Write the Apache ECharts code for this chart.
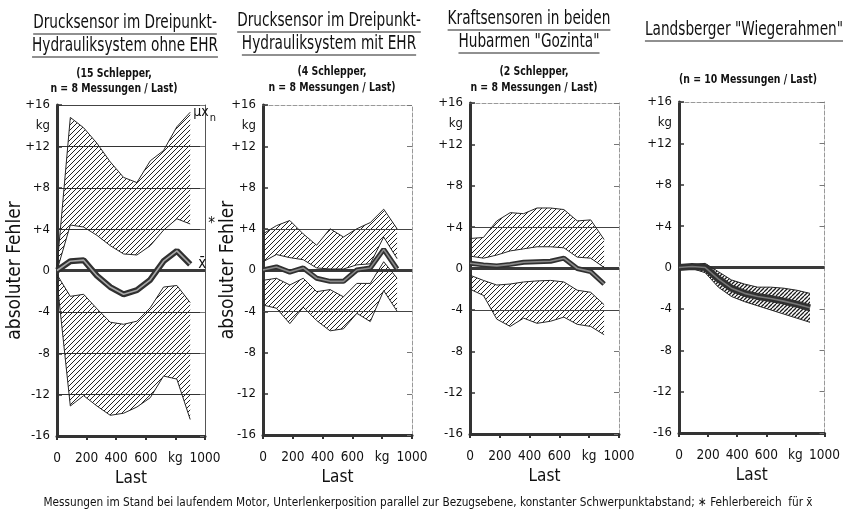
<!DOCTYPE html>
<html><head><meta charset="utf-8">
<script src="https://cdn.jsdelivr.net/npm/echarts@6/dist/echarts.min.js"></script>
<style>html,body{margin:0;padding:0;background:#fff}#c{width:843px;height:513px}</style>
</head><body><div id="c"></div>
<script>
// ---------- data (loads in kg, errors in kg) ----------
const loads = [0, 90, 180, 270, 360, 450, 540, 630, 720, 810, 900];
const xTicks = [0, 200, 400, 600, 800, 1000];
const xTickLabels = ['0', '200', '400', '600', 'kg', '1000'];
const yTicks = [-16, -12, -8, -4, 0, 4, 8, 12, 16];
const yTickLabels = ['-16', '-12', '-8', '-4', '0', '+4', '+8', '+12', '+16'];

// Panel 1: Drucksensor ohne EHR
const p1UpperTop = [0.3, 14.8, 13.8, 12.3, 10.5, 9.0, 8.5, 10.6, 11.6, 13.9, 15.3];
const p1UpperBottom = [0.0, 4.4, 4.2, 3.4, 2.4, 1.6, 1.5, 2.4, 3.9, 5.0, 4.5];
const p1Mean = [0.0, 0.9, 1.0, -0.5, -1.6, -2.3, -1.9, -0.9, 0.9, 1.9, 0.6];
const p1LowerTop = [-0.4, -2.5, -2.3, -3.7, -5.0, -5.2, -4.9, -3.6, -1.6, -1.45, -3.1];
const p1LowerBottom = [-1.0, -13.1, -12.1, -13.1, -14.0, -13.8, -13.2, -12.3, -10.2, -10.5, -14.4];

// Panel 2: Drucksensor mit EHR
const p2UpperTop = [3.5, 4.3, 4.8, 3.5, 2.4, 4.0, 3.2, 4.0, 4.6, 5.9, 4.0];
const p2UpperBottom = [0.8, 1.5, 1.2, 1.0, 0.2, 0.1, 0.1, 0.5, 0.6, 3.2, 1.1];
const p2Mean = [0.0, 0.3, -0.2, 0.2, -0.8, -1.1, -1.1, 0.0, 0.2, 2.0, 0.1];
const p2LowerTop = [-1.0, -0.8, -1.45, -0.8, -2.1, -1.9, -2.6, -1.3, -1.3, 0.8, -0.8];
const p2LowerBottom = [-3.4, -3.7, -5.2, -3.6, -4.9, -5.9, -5.7, -4.2, -5.0, -2.0, -4.0];

// Panel 3: Kraftsensoren Gozinta
const p3UpperTop = [2.9, 3.0, 4.6, 5.4, 5.3, 5.85, 5.85, 5.7, 4.6, 4.7, 2.8];
const p3UpperBottom = [1.2, 1.0, 1.3, 1.7, 1.9, 2.1, 2.1, 2.0, 1.1, 1.0, 0.1];
const p3Mean = [0.5, 0.35, 0.25, 0.4, 0.6, 0.65, 0.7, 1.0, 0.0, -0.3, -1.5];
const p3LowerTop = [-0.65, -1.15, -1.6, -1.5, -1.3, -1.2, -1.15, -1.3, -2.1, -2.3, -3.5];
const p3LowerBottom = [-2.0, -2.6, -4.9, -5.6, -4.8, -5.3, -5.1, -4.7, -5.4, -5.6, -6.4];

// Panel 4: Landsberger Wiegerahmen
const p4Top = [0.1, 0.3, 0.4, -0.4, -1.2, -1.6, -1.9, -1.9, -2.0, -2.2, -2.5];
const p4Mean = [0.0, 0.1, 0.0, -1.1, -2.0, -2.5, -2.8, -3.0, -3.25, -3.55, -3.9];
const p4Bottom = [0.0, -0.1, -0.5, -1.9, -2.8, -3.3, -3.7, -4.1, -4.5, -4.9, -5.3];

const titles = [
  ['Drucksensor im Dreipunkt-', 'Hydrauliksystem ohne EHR'],
  ['Drucksensor im Dreipunkt-', 'Hydrauliksystem mit EHR'],
  ['Kraftsensoren in beiden', 'Hubarmen "Gozinta"'],
  ['Landsberger "Wiegerahmen"']
];
const subtitles = [
  ['(15 Schlepper,', 'n = 8 Messungen / Last)'],
  ['(4 Schlepper,', 'n = 8 Messungen / Last)'],
  ['(2 Schlepper,', 'n = 8 Messungen / Last)'],
  ['(n = 10 Messungen / Last)']
];
const yAxisTitle = 'absoluter Fehler';
const xAxisTitle = 'Last';
const footnote = 'Messungen im Stand bei laufendem Motor, Unterlenkerposition parallel zur Bezugsebene, konstanter Schwerpunktabstand; \u2217 Fehlerbereich  f\u00fcr x\u0304';

// ---------- layout / style ----------
const FF = "'Liberation Sans Narrow','DejaVu Sans Condensed','Liberation Sans',sans-serif";
const INK = '#262626';
const grids = [
  {left: 57, top: 105, width: 148, height: 331},
  {left: 263, top: 105, width: 149, height: 330},
  {left: 470, top: 103, width: 149, height: 331},
  {left: 679, top: 102, width: 150, height: 331}
];
const titleLayout = [
  {cx: 125, y: [23, 46], scx: 114, sy: [74, 89]},
  {cx: 329, y: [21, 44], scx: 332, sy: [72, 88]},
  {cx: 529, y: [19, 42], scx: 534, sy: [72, 88]},
  {cx: 744, y: [30], scx: 748, sy: [80]}
];

function makeHatch(step, lw, color) {
  const c = document.createElement('canvas');
  c.width = step; c.height = step;
  const g = c.getContext('2d');
  g.strokeStyle = color; g.lineWidth = lw;
  g.beginPath();
  for (let k = -1; k <= 1; k++) { g.moveTo(k * step, step); g.lineTo(k * step + step, 0); }
  g.stroke();
  return c;
}
const hatch = {type: 'pattern', image: makeHatch(5, 1, '#222'), repeat: 'repeat'};
const hatchDense = {type: 'pattern', image: makeHatch(4, 1.3, '#1a1a1a'), repeat: 'repeat'};

function pairs(arr) { return loads.map((x, i) => [x, arr[i]]); }

function bandFill(gi, upper, lower, pat) {
  return {
    type: 'custom', xAxisIndex: gi, yAxisIndex: gi, silent: true, z: 1,
    data: [[loads[0], upper[0]]],
    renderItem: function (params, api) {
      const pts = [];
      for (let i = 0; i < loads.length; i++) pts.push(api.coord([loads[i], upper[i]]));
      for (let i = loads.length - 1; i >= 0; i--) pts.push(api.coord([loads[i], lower[i]]));
      return {type: 'polygon', shape: {points: pts}, style: {fill: pat, stroke: null}};
    }
  };
}
function edge(gi, arr, endLabel) {
  const s = {
    type: 'line', xAxisIndex: gi, yAxisIndex: gi, data: pairs(arr), symbol: 'none',
    silent: true, z: 2, lineStyle: {color: INK, width: 1}
  };
  if (endLabel) s.endLabel = endLabel;
  return s;
}
function meanLine(gi, arr, width, endLabel, extraMarks, innerColor) {
  const marks = [{yAxis: 0, lineStyle: {color: '#3a3a3a', width: 3, type: 'solid'}}].concat(extraMarks || []);
  const outer = {
    type: 'line', xAxisIndex: gi, yAxisIndex: gi, data: pairs(arr), symbol: 'none', silent: true, z: 3,
    lineStyle: {color: '#303030', width: width},
    markLine: {silent: true, symbol: 'none', label: {show: false}, data: marks, z: 2}
  };
  if (endLabel) outer.endLabel = endLabel;
  const inner = {
    type: 'line', xAxisIndex: gi, yAxisIndex: gi, data: pairs(arr), symbol: 'none', silent: true, z: 4,
    lineStyle: {color: innerColor || '#a8a8a8', width: 1.6}
  };
  return [outer, inner];
}
const gridMarks = [
  {yAxis: 4, lineStyle: {color: '#444', width: 1, type: 'solid'}},
  {yAxis: -4, lineStyle: {color: '#444', width: 1, type: 'solid'}}
];

const series = [
  bandFill(0, p1UpperTop, p1UpperBottom, hatch),
  bandFill(0, p1LowerTop, p1LowerBottom, hatch),
  edge(0, p1UpperTop, {show: true, distance: 3, formatter: '{m|\u03bc}{x|x}{n|n}',
    rich: {m: {fontSize: 14, fontFamily: FF, color: '#111'}, x: {fontSize: 14, fontFamily: FF, color: '#111'},
           n: {fontSize: 11, fontFamily: FF, color: '#111', padding: [12, 0, 0, 1]}}}),
  edge(0, p1UpperBottom, {show: true, distance: 18, formatter: '*', fontSize: 15, color: '#111', fontFamily: FF}),
  edge(0, p1LowerTop), edge(0, p1LowerBottom),
  ...meanLine(0, p1Mean, 6, {show: true, distance: 8, formatter: 'x\u0304', fontSize: 15, color: '#111', fontFamily: FF}),

  bandFill(1, p2UpperTop, p2UpperBottom, hatch),
  bandFill(1, p2LowerTop, p2LowerBottom, hatch),
  edge(1, p2UpperTop), edge(1, p2UpperBottom), edge(1, p2LowerTop), edge(1, p2LowerBottom),
  ...meanLine(1, p2Mean, 5, null, gridMarks, '#8a8a8a'),

  bandFill(2, p3UpperTop, p3UpperBottom, hatch),
  bandFill(2, p3LowerTop, p3LowerBottom, hatch),
  edge(2, p3UpperTop), edge(2, p3UpperBottom), edge(2, p3LowerTop), edge(2, p3LowerBottom),
  ...meanLine(2, p3Mean, 5, null, gridMarks, '#8a8a8a'),

  bandFill(3, p4Top, p4Bottom, hatchDense),
  edge(3, p4Top), edge(3, p4Bottom),
  ...meanLine(3, p4Mean, 7, null, null, '#777')
];

const xAxes = [], yAxes = [];
grids.forEach((g, i) => {
  xAxes.push({
    gridIndex: i, type: 'value', min: 0, max: 1000, interval: 200, position: 'bottom',
    axisLine: {show: true, onZero: false, lineStyle: {color: '#333', width: 3}},
    axisTick: {show: true, inside: false, length: 4, lineStyle: {color: '#333', width: 2}},
    axisLabel: {margin: 15, fontSize: 13.5, fontFamily: FF, color: '#111', showMaxLabel: true, showMinLabel: true,
      hideOverlap: false, formatter: v => xTickLabels[xTicks.indexOf(v)]},
    splitLine: {show: false},
    name: xAxisTitle, nameLocation: 'middle', nameGap: 34, nameMoveOverlap: false,
    nameTextStyle: {fontSize: 17, fontFamily: FF, color: '#111'}
  });
  yAxes.push({
    gridIndex: i, type: 'value', min: -16, max: 16, interval: 4, position: 'left',
    axisLine: {show: true, onZero: false, lineStyle: {color: '#333', width: 3}},
    axisTick: {show: true, inside: true, length: 5, lineStyle: {color: '#333', width: 1.5}},
    axisLabel: {margin: 7, fontSize: 13, fontFamily: FF, color: '#111', showMaxLabel: true, showMinLabel: true,
      customValues: yTicks.concat([14]),
      formatter: v => v === 14 ? 'kg' : yTickLabels[yTicks.indexOf(v)]},
    splitLine: i === 0 ? {show: true, lineStyle: {color: '#333', width: 1}} : {show: false},
    name: i < 2 ? yAxisTitle : '', nameLocation: 'middle', nameGap: i === 0 ? 32 : 25, nameMoveOverlap: false,
    nameTextStyle: {fontSize: 19, fontFamily: FF, color: '#111'}
  });
});
grids.forEach((g, i) => {
  const solid = i === 0;
  xAxes.push({
    gridIndex: i, type: 'value', min: 0, max: 1000, position: 'top',
    axisLine: {show: true, onZero: false, lineStyle: {color: solid ? '#444' : '#999', width: 1, type: solid ? 'solid' : 'dashed'}},
    axisTick: {show: false}, axisLabel: {show: false}, splitLine: {show: false}
  });
  yAxes.push({
    gridIndex: i, type: 'value', min: -16, max: 16, interval: 4, position: 'right',
    axisLine: {show: true, onZero: false, lineStyle: {color: solid ? '#555' : '#999', width: 1, type: solid ? 'solid' : 'dashed'}},
    axisTick: {show: true, inside: true, length: 5, lineStyle: {color: '#777', width: 1}},
    axisLabel: {show: false}, splitLine: {show: false}
  });
});

// titles as text graphics (horizontally condensed), with underlines
const measure = document.createElement('canvas').getContext('2d');
const graphics = [];
const TFS = 19, TSX = 0.8;
titles.forEach((lines, i) => {
  const L = titleLayout[i];
  lines.forEach((t, k) => {
    const font = TFS + 'px ' + FF;
    measure.font = font;
    const w = measure.measureText(t).width * TSX;
    graphics.push({type: 'text', x: L.cx, y: L.y[k], scaleX: TSX,
      style: {text: t, x: 0, y: 0, font: font, fill: '#111', align: 'center', verticalAlign: 'middle'}});
    graphics.push({type: 'line', shape: {x1: L.cx - w / 2, y1: L.y[k] + 11, x2: L.cx + w / 2, y2: L.y[k] + 11},
      style: {stroke: '#222', lineWidth: 1.2}});
  });
  subtitles[i].forEach((t, k) => {
    graphics.push({type: 'text', x: L.scx, y: L.sy[k], scaleX: 0.8,
      style: {text: t, x: 0, y: 0, font: 'bold 13px ' + FF, fill: '#111', align: 'center', verticalAlign: 'middle'}});
  });
});
graphics.push({type: 'text', x: 428, y: 503, scaleX: 0.9,
  style: {text: footnote, x: 0, y: 0, font: '13px ' + FF, fill: '#111', align: 'center', verticalAlign: 'middle'}});

const chart = echarts.init(document.getElementById('c'), null, {renderer: 'canvas'});
chart.setOption({
  animation: false,
  backgroundColor: '#fff',
  grid: grids.map(g => Object.assign({containLabel: false}, g)),
  xAxis: xAxes,
  yAxis: yAxes,
  series: series,
  graphic: graphics
});
</script></body></html>
